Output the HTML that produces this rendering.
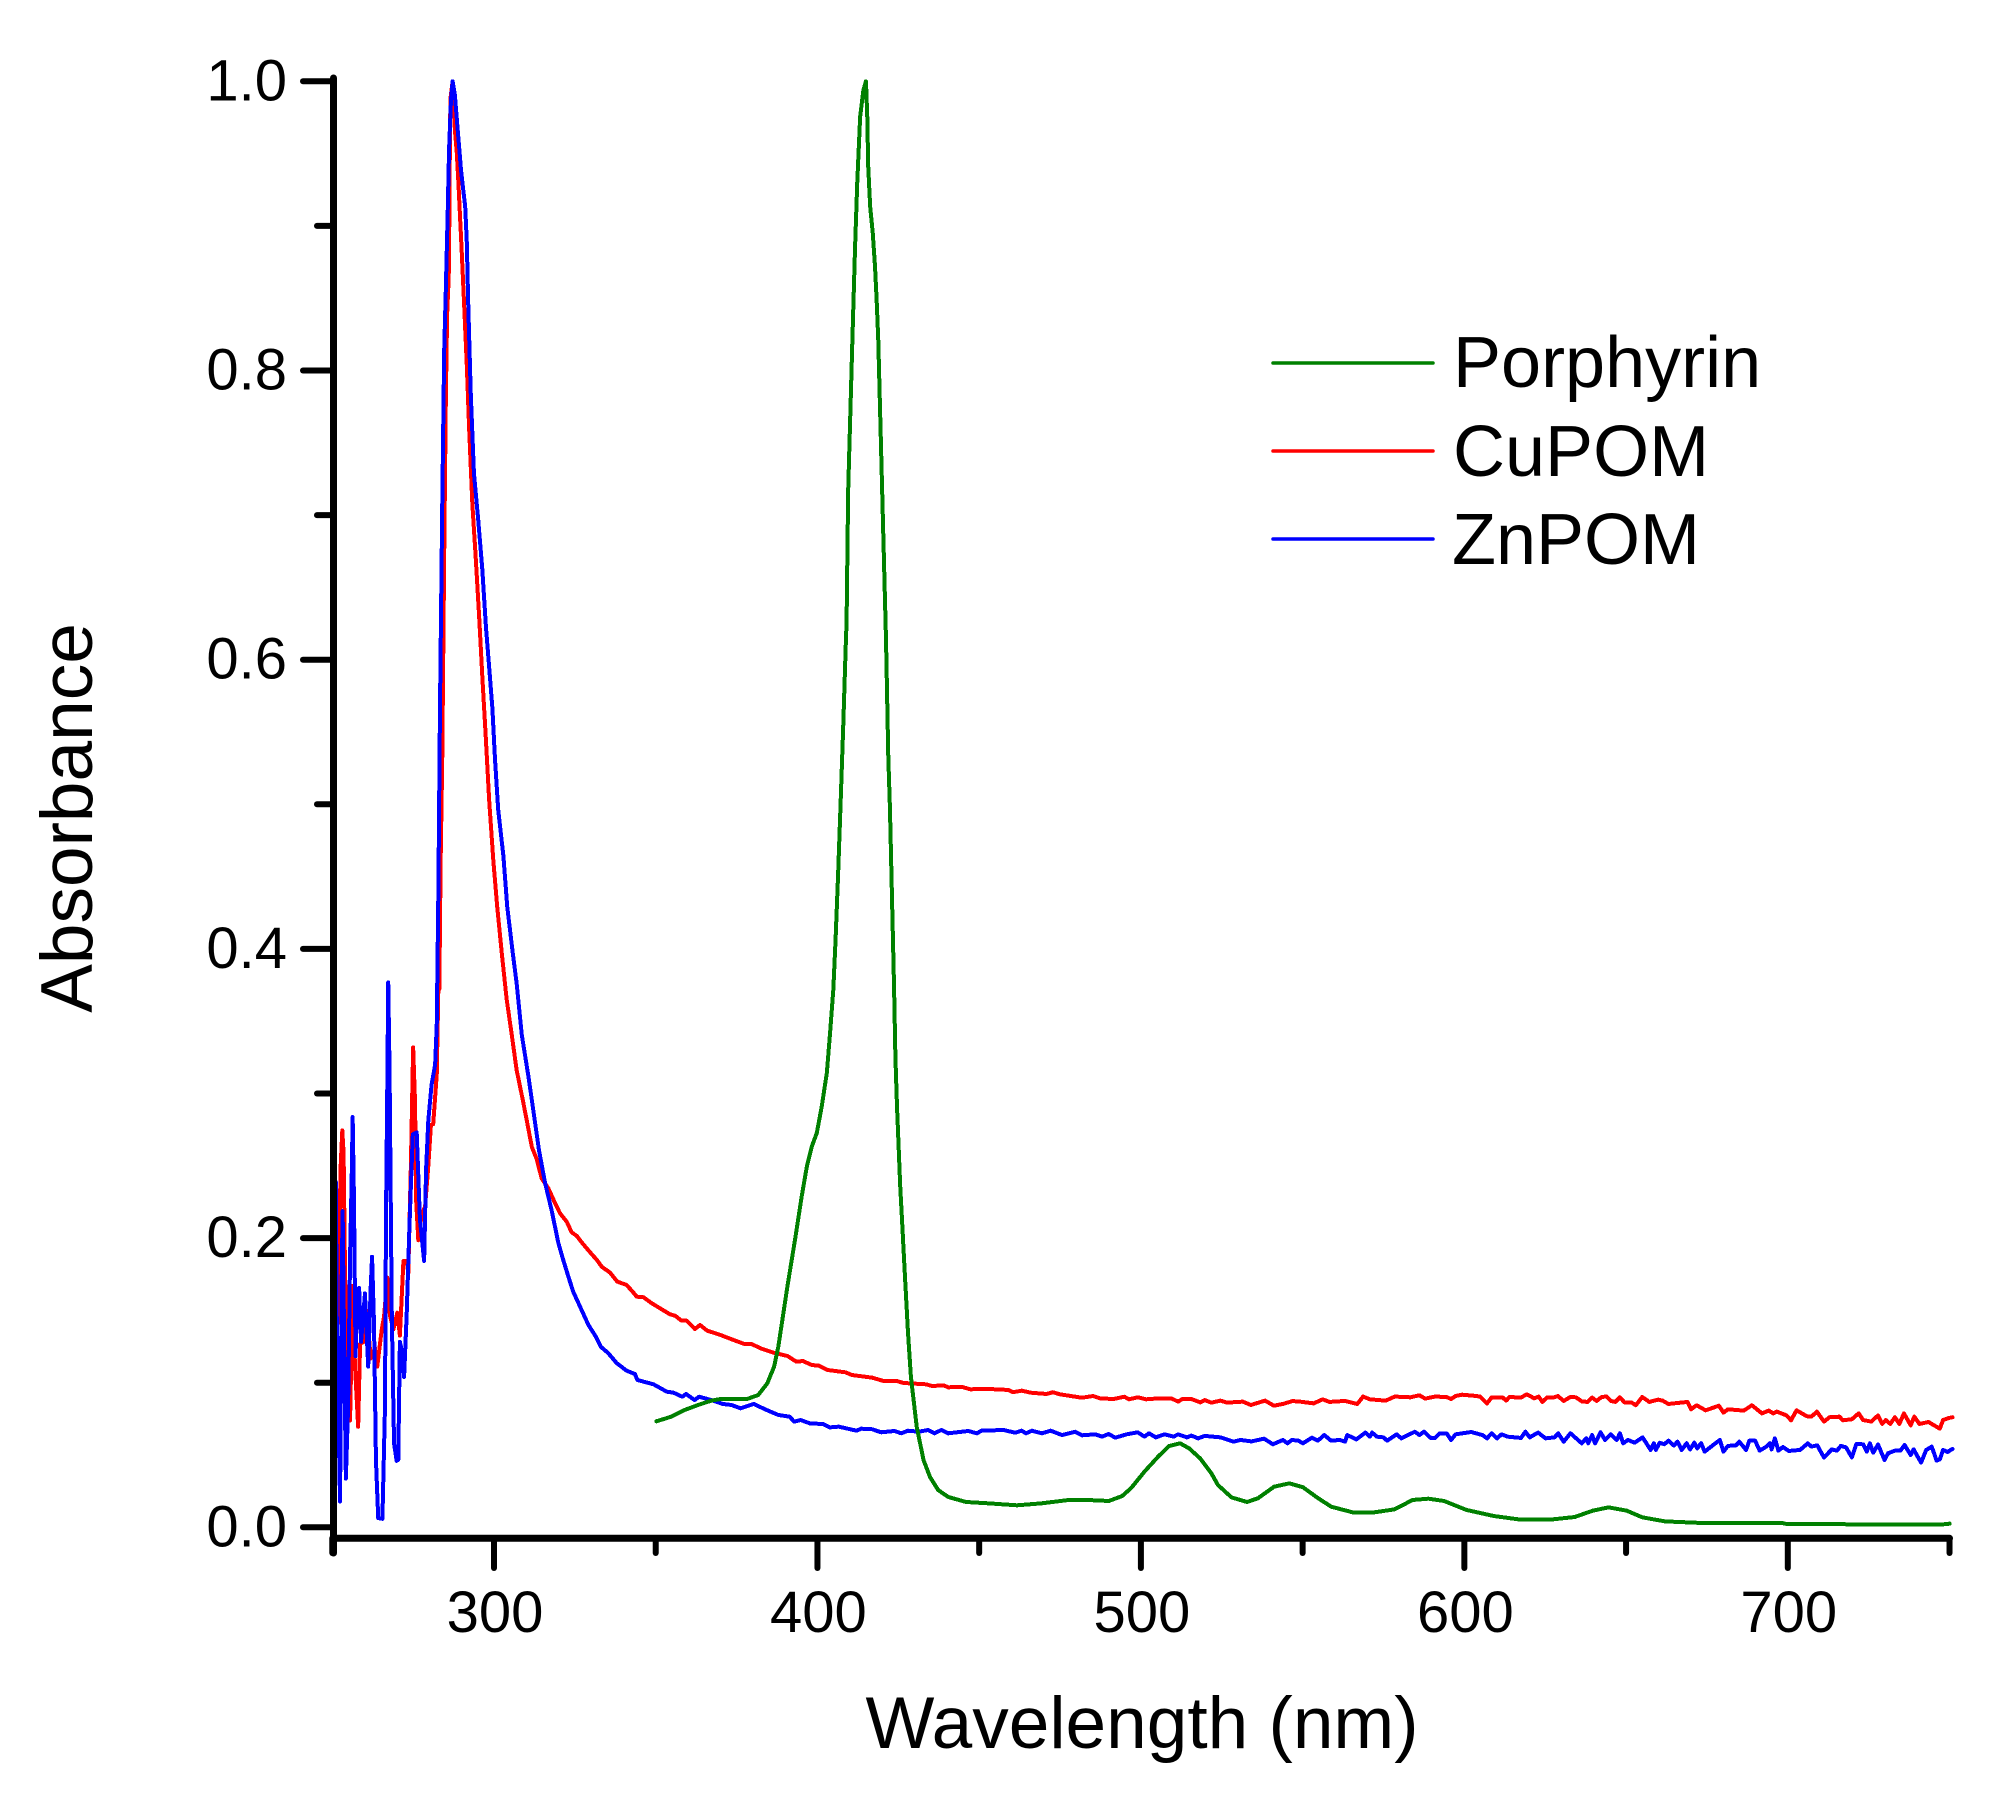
<!DOCTYPE html>
<html lang="en">
<head>
<meta charset="utf-8">
<title>Absorbance spectra</title>
<style>
html,body{margin:0;padding:0;background:#fff;width:2006px;height:1796px;overflow:hidden}
svg{display:block;font-family:"Liberation Sans",Arial,sans-serif}
.spectrum{fill:none;stroke-width:4;stroke-linejoin:round;stroke-linecap:round;shape-rendering:crispEdges}
</style>
</head>
<body>
<svg id="chart" xmlns="http://www.w3.org/2000/svg" width="2006" height="1796" viewBox="0 0 2006 1796">
  <rect x="0" y="0" width="2006" height="1796" fill="#fff"/>
  <g id="series-layer"></g>
  <g id="axis-layer"></g>
  <text x="92" y="818" font-size="73" text-anchor="middle" transform="rotate(-90 92 818)">Absorbance</text>
  <text x="1142" y="1748" font-size="73" text-anchor="middle">Wavelength (nm)</text>
  <g>
    <g>
      <line x1="1280" x2="1440" y1="363" y2="363" stroke="#008000" stroke-width="3.5" stroke-linecap="round" transform="translate(-7 0)"/>
      <text x="1453" y="387" font-size="72">Porphyrin</text>
    </g>
    <g>
      <line x1="1280" x2="1440" y1="451" y2="451" stroke="#ff0000" stroke-width="3.5" stroke-linecap="round" transform="translate(-7 0)"/>
      <text x="1453" y="476" font-size="72">CuPOM</text>
    </g>
    <g>
      <line x1="1280" x2="1440" y1="539" y2="539" stroke="#0000ff" stroke-width="3.5" stroke-linecap="round" transform="translate(-7 0)"/>
      <text x="1452" y="564" font-size="72">ZnPOM</text>
    </g>
  </g>
</svg>
<script>
const xMajorTicks = [300, 400, 500, 600, 700];
const xMinorTicks = [250, 350, 450, 550, 650, 750];
const xTickLabels = ['300', '400', '500', '600', '700'];
const yMajorTicks = [0, 0.2, 0.4, 0.6, 0.8, 1.0];
const yMinorTicks = [0.1, 0.3, 0.5, 0.7, 0.9];
const yTickLabels = ['0.0', '0.2', '0.4', '0.6', '0.8', '1.0'];

const porphyrinSpectrum = [
[350.2,.0733],[354.8,.0765],[358.9,.0811],[363.1,.0846],[367.2,.0876],[370,.0887],[378.2,.0887],[381.7,.0915],[384.5,.0996],[386.6,.1111],
[387.9,.1249],[389.3,.1456],[390.7,.1664],[393.2,.2008],[395.1,.2284],[396.7,.2492],[398.2,.263],[399.8,.2727],[401.3,.2907],[402.9,.3142],
[403.9,.3418],[404.9,.3716],[405.6,.4062],[406.4,.4525],[407.3,.5099],[408,.5562],[408.8,.6136],[409,.6254],[409.5,.7174],[410.8,.8211],
[411.6,.8833],[412.3,.9297],[413.2,.9755],[414.2,.994],[415,1],[415.4,.9755],[415.7,.9409],[416.3,.9133],[417.1,.8951],[417.8,.8718],
[418.3,.8488],[418.8,.8211],[420,.7174],[421.2,.6136],[421.9,.5327],[422.4,.4981],[423.3,.4109],[423.7,.3716],[424.1,.3252],[424.6,.2907],
[425.1,.263],[425.6,.2353],[426.1,.2146],[426.9,.18],[428,.1344],[428.9,.1039],[430.7,.0694],[432.8,.0465],[434.8,.0348],[437.3,.0258],
[440.4,.021],[445.9,.0175],[452.7,.0166],[461.7,.0152],[469.4,.0166],[477.7,.0189],[483.2,.0189],[490.1,.0182],[494.2,.0216],[497,.0272],
[501.1,.0385],[505.3,.0488],[508.7,.0562],[512.1,.0581],[514.9,.0546],[518.3,.0477],[521.8,.0373],[523.8,.0293],[528,.0207],[532.8,.0175],
[536.2,.0201],[541.2,.0281],[545.9,.0304],[550.1,.0277],[554.8,.0201],[558.9,.0142],[565.9,.0101],[571.4,.0101],[578.4,.0124],[584,.0189],
[588.9,.0198],[593.7,.0182],[600.7,.012],[609.1,.0078],[617.4,.0053],[626.5,.0053],[634.1,.0071],[639.7,.0115],[644.6,.0138],[650.2,.0115],
[655,.0069],[662,.0041],[673.2,.003],[698.2,.003],[699.6,.0023],[746.9,.0018],[750,.0025]
];

const cuPomSpectrum = [
[250.3,.0752],[250.8,.1498],[251.2,.1100],[252.1,.1900],[252.6,.2501],[253.1,.2745],[253.5,.2588],[253.9,.1842],[254.4,.1125],[255.5,.0738],
[256.3,.167],[257,.1125],[258,.0695],[258.6,.1269],[259.8,.1283],[260.6,.1498],[261.9,.1168],[263.2,.1240],[263.9,.1111],[265.3,.1369],
[266,.1455],[267,.1727],[267.8,.1469],[268.9,.1369],[270.1,.1484],[270.9,.1326],[272,.1842],[273,.1842],[273.5,.1756],[274.3,.2501],
[275,.3319],[275.6,.2932],[275.9,.2272],[276.6,.1985],[277.6,.2157],[278.7,.2220],[279.7,.2501],[280.5,.2783],[281.2,.2788],[282.3,.3132],
[282.8,.3734],[283.1,.372],[283.5,.4608],[284,.5315],[284.3,.6018],[284.6,.6724],[285.1,.7781],[285.5,.8383],[286,.8646],[286.2,.9062],
[286.4,.9706],[286.6,.9892],[287.2,1],[287.9,.9664],[288.5,.9504],[289,.9297],[289.5,.9062],[290,.8833],[290.7,.8488],[291.6,.8031],
[292.3,.7606],[293.3,.7077],[294.3,.6724],[295.4,.6302],[296.4,.5877],[297.4,.5488],[298.5,.503],[299.8,.4608],[301,.429],[302.4,.3972],
[303.9,.3654],[305.5,.3404],[307,.3162],[308.9,.2955],[310.1,.2817],[311.7,.263],[313.2,.2547],[314.7,.2415],[316.8,.2344],[318.9,.2241],
[320.4,.2172],[322.5,.2113],[324,.204],[325.6,.2015],[327.1,.1971],[329.7,.1902],[331.8,.1849],[333.3,.1802],[335.9,.1761],[338.1,.1699],
[341,.1676],[343.3,.1618],[344.1,.1595],[346.2,.1591],[348.8,.1549],[351.3,.1515],[354.4,.1473],[356,.1463],[358,.1429],[359.6,.1429],
[362.1,.1371],[363.7,.1399],[365.9,.136],[370,.133],[374.1,.1295],[377.6,.1266],[379.6,.1268],[382.4,.1238],[386.5,.1207],[390.7,.1185],
[393.5,.1145],[395.5,.115],[398.3,.1122],[400.4,.1118],[403.1,.1088],[408.6,.1072],[410.7,.1053],[416.9,.1035],[420.4,.1012],[424.5,.1012],
[426.6,.0998],[433.5,.0989],[435.5,.0977],[439,.0982],[440.4,.0968],[444.5,.0972],[447.3,.0954],[451.4,.0958],[459,.095],[460.4,.0934],
[463.2,.0945],[465.9,.0931],[470.8,.0922],[472.8,.0934],[474.9,.092],[478.3,.0908],[481.8,.0896],[485.2,.0908],[487.3,.0892],[491.5,.0887],
[494.9,.0903],[496.3,.0885],[499,.0899],[501.6,.0885],[503.9,.0889],[509.4,.0892],[511.5,.0869],[512.8,.0887],[515.6,.0887],[518.4,.0864],
[519.7,.088],[521.8,.0862],[524.6,.0876],[526.6,.0862],[531.5,.0869],[534,.0846],[538.4,.0876],[541.1,.0841],[543.9,.0853],[546.9,.0873],
[549.2,.0869],[553.4,.0857],[556.2,.0885],[558.3,.0867],[563.1,.0874],[566.9,.0853],[568.7,.0904],[570.8,.0885],[575.7,.0876],[578.5,.0904],
[583.3,.0899],[586.1,.0913],[587.9,.089],[591,.0904],[594.5,.0901],[595.9,.0887],[597.3,.0908],[599.3,.0917],[602.8,.091],[604.9,.0904],
[607,.0857],[608.4,.0897],[611.9,.0897],[612.9,.0876],[614,.0901],[617.5,.0897],[619.3,.092],[621.6,.0892],[623,.0904],[624.1,.0867],
[625.5,.0897],[627.5,.0897],[628.9,.0908],[630.7,.0874],[632.8,.0901],[634.5,.0899],[636.3,.0871],[638.1,.0867],[639.5,.0897],[640.9,.0874],
[642.3,.0899],[643.9,.0906],[645.3,.0874],[646.7,.0867],[648.1,.0899],[649.5,.0864],[651.6,.0864],[653,.0844],[655,.0901],[657.2,.0867],
[659.9,.0883],[661.3,.0876],[663.1,.0853],[669,.0867],[670.1,.0816],[671.8,.0844],[674.6,.0809],[678.7,.0841],[680.1,.0793],[681.5,.0816],
[686.4,.0807],[688.9,.0844],[692,.0788],[694.1,.0807],[695.5,.0788],[696.6,.08],[699.6,.0774],[701,.074],[702.7,.0809],[705.9,.0768],
[707.3,.0765],[709,.08],[711.2,.0731],[712.9,.0761],[716,.0765],[717,.074],[719.8,.0747],[721.9,.0788],[723.3,.0742],[725.8,.0731],
[727.9,.0774],[729.2,.0715],[730.3,.0742],[731.7,.0715],[733.1,.0761],[734.5,.0715],[735.9,.0788],[738,.0705],[739.1,.0765],[740.7,.0715],
[743.5,.0728],[747,.0682],[748,.0742],[749.8,.0756],[750.9,.0761]
];

const znPomSpectrum = [
[250.3,.0408],[250.6,.2301],[251.1,.2387],[251.4,.1412],[251.9,.0800],[252.4,.0179],[252.9,.1699],[253.2,.2186],[253.6,.1412],[254.2,.0337],
[254.9,.0838],[255.5,.1871],[256,.2416],[256.3,.2837],[256.7,.2272],[257.2,.1183],[257.7,.1613],[258.3,.1656],[258.9,.1283],[259.6,.1469],
[260.1,.1618],[261.1,.1111],[261.9,.167],[262.3,.1871],[262.9,.1412],[263.5,.0466],[264.2,.0064],[265.5,.0059],[266.3,.0838],[266.6,.2129],
[267,.3032],[267.3,.3769],[267.7,.3175],[268,.2444],[268.4,.1469],[269.1,.058],[269.9,.046],[270.4,.0466],[270.9,.1283],[271.6,.1211],
[272.2,.1039],[273,.1469],[273.8,.2043],[274.3,.2358],[274.9,.2717],[276.1,.2731],[277.1,.2129],[278.4,.1842],[279,.2473],[279.7,.2817],
[280.7,.3061],[281.8,.3198],[282.3,.3477],[282.8,.4393],[283.3,.5665],[284,.7077],[284.6,.814],[285.1,.8556],[285.4,.8833],[285.7,.911],
[286.1,.9525],[286.7,.9871],[287.2,1],[287.9,.9906],[288.7,.9686],[289.3,.9525],[289.8,.9386],[290.5,.9248],[291.1,.9133],[291.6,.8882],
[292,.8488],[292.8,.7851],[293.8,.7288],[295.1,.6973],[296.4,.662],[297.5,.623],[298.5,.5949],[299.5,.5665],[300.3,.5315],[301.3,.4962],
[302.9,.4644],[304.1,.429],[305.8,.3972],[307,.3762],[308.6,.3404],[310.6,.3124],[311.7,.2955],[313.9,.2609],[315.8,.238],[317.8,.2194],
[319.9,.1966],[321.4,.1849],[323,.1733],[324.5,.1629],[326.6,.1526],[329.2,.1399],[331.5,.1318],[333,.1249],[335.3,.1205],[337.9,.1136],
[341,.1083],[343.6,.106],[344.3,.1019],[345.1,.1014],[349.3,.0989],[353.4,.0938],[355.5,.0931],[358.2,.0903],[359.4,.0922],[362,.088],
[363.4,.0903],[367.2,.088],[370.7,.0853],[373.4,.0846],[376.2,.0823],[380.3,.0853],[383.8,.0816],[387.9,.0777],[391.4,.0765],[392.8,.0731],
[394.8,.0742],[397.6,.0719],[401.7,.0714],[403.8,.0691],[406.6,.0696],[412.1,.0668],[413.5,.0682],[416.9,.0678],[419.7,.0657],[423.8,.0666],
[425.9,.065],[428,.0668],[431.4,.0661],[434.2,.0673],[436.2,.065],[438.3,.0673],[440.4,.065],[446.6,.0666],[449.3,.065],[450.7,.0668],
[457.6,.0673],[461.1,.0654],[463.1,.0668],[464.5,.065],[466.3,.0668],[469.4,.065],[472.1,.0668],[475.6,.0638],[479.7,.0661],[481.8,.0636],
[485.9,.0643],[488,.0627],[490,.0645],[492.1,.062],[495.6,.0643],[499,.0657],[501.1,.0627],[502.5,.065],[504.6,.0622],[507.3,.0643],
[510.1,.0627],[511.5,.0643],[514.2,.0622],[515.6,.0634],[517.7,.0615],[519.7,.0632],[524.6,.0622],[528.7,.0592],[530.8,.0604],[534.2,.0594],
[538.1,.0613],[540.8,.0574],[543.9,.0604],[545.3,.0581],[546.7,.0604],[548.7,.0599],[550.1,.0581],[552.9,.062],[554.7,.0599],[556.7,.0638],
[558.8,.0599],[561.5,.0604],[563.1,.0592],[563.8,.0638],[566.6,.0608],[569.4,.0655],[570.8,.0627],[571.5,.0655],[572.9,.0627],[575,.0622],
[576.1,.0599],[579.1,.0643],[580.5,.0615],[584.7,.0661],[586.1,.0638],[587.5,.0661],[589.6,.0618],[591,.0618],[592.4,.065],[594.5,.065],
[595.9,.0604],[597.3,.0643],[602.1,.0659],[605.6,.0638],[607,.0615],[608.4,.065],[610.1,.0615],[611.5,.0643],[613.3,.0627],[617.5,.0618],
[618.9,.0661],[620.2,.0622],[622.8,.0655],[625.1,.0615],[627.9,.0622],[629,.065],[630.7,.0592],[632.8,.065],[636.3,.0581],[637.7,.0615],
[638.3,.0581],[639.5,.0638],[640.4,.0581],[642.1,.0657],[643.5,.0604],[645.3,.0643],[647.1,.0604],[648.1,.065],[649.1,.0581],[650.6,.0604],
[652.6,.0585],[655.1,.0622],[657.6,.0535],[658.6,.0581],[659.2,.0535],[660.4,.0585],[661.8,.0574],[663.1,.0599],[664.8,.0565],[665.9,.0592],
[667.2,.0535],[668.7,.0581],[669.8,.0539],[671.1,.0585],[672,.0546],[673.2,.0581],[674.3,.0523],[676.7,.0565],[679,.0604],[680.1,.0523],
[681.5,.0563],[684,.0567],[685,.0592],[687.1,.0535],[688.1,.0599],[689.9,.0599],[691.3,.053],[693.4,.0558],[694.5,.0581],[695,.0539],
[696,.0615],[697.1,.053],[698.5,.0555],[700.3,.0528],[703.8,.0535],[706.2,.0581],[707.3,.0558],[709.1,.0567],[711.2,.0482],[713.6,.0539],
[715.2,.053],[716.4,.0563],[718,.0553],[719.8,.0484],[721.2,.0576],[723.3,.0574],[724.4,.0523],[725.4,.0581],[726.4,.0516],[727.9,.0572],
[729.9,.0466],[731,.0512],[733.1,.053],[734.8,.053],[736.1,.0569],[738,.05],[738.9,.0539],[741.2,.0447],[742.8,.0535],[744.5,.0558],
[746,.0461],[747,.047],[748,.0535],[749.4,.0521],[750.9,.0542]
];

const SVG_NS = 'http://www.w3.org/2000/svg';
const xScale = function (wavelength) { return 494 + (wavelength - 300) * 3.2345; };
const yScale = function (absorbance) { return 1527.3 - absorbance * 1446; };
const axisLayer = document.getElementById('axis-layer');
const seriesLayer = document.getElementById('series-layer');

function drawLine(x1, y1, x2, y2, width) {
  const line = document.createElementNS(SVG_NS, 'line');
  line.setAttribute('x1', x1);
  line.setAttribute('y1', y1);
  line.setAttribute('x2', x2);
  line.setAttribute('y2', y2);
  line.setAttribute('stroke', '#000');
  line.setAttribute('stroke-width', width);
  line.setAttribute('stroke-linecap', 'round');
  axisLayer.appendChild(line);
  return line;
}

function drawLabel(x, y, anchor, content) {
  const label = document.createElementNS(SVG_NS, 'text');
  label.setAttribute('x', x);
  label.setAttribute('y', y);
  label.setAttribute('font-size', '58');
  label.setAttribute('text-anchor', anchor);
  label.textContent = content;
  axisLayer.appendChild(label);
  return label;
}

function drawSeries(points, color, name) {
  const path = document.createElementNS(SVG_NS, 'polyline');
  path.setAttribute('class', 'spectrum');
  path.setAttribute('stroke', color);
  path.setAttribute('points', points.map(function (p) {
    return xScale(p[0]).toFixed(2) + ',' + yScale(p[1]).toFixed(2);
  }).join(' '));
  
  
  seriesLayer.appendChild(path);
}

drawSeries(cuPomSpectrum, '#ff0000', 'series-cupom');
drawSeries(znPomSpectrum, '#0000ff', 'series-znpom');
drawSeries(porphyrinSpectrum, '#008000', 'series-porphyrin');

const yAxisLine = drawLine(333.5, 78, 333.5, 1553, 7);


const xAxisLine = drawLine(333.5, 1538.3, xScale(750), 1538.3, 7);



xMajorTicks.forEach(function (value, i) {
  const tick = drawLine(xScale(value), 1538.3, xScale(value), 1568, 6);
  
  
  const label = drawLabel(xScale(value) + 1, 1632, 'middle', xTickLabels[i]);
  
  
});
xMinorTicks.forEach(function (value) {
  const tick = drawLine(xScale(value), 1538.3, xScale(value), 1553, 6);
  
  
});
yMajorTicks.forEach(function (value, i) {
  const tick = drawLine(303, yScale(value), 333.5, yScale(value), 6);
  
  
  const label = drawLabel(287, yScale(value) + 19, 'end', yTickLabels[i]);
  
  
});
yMinorTicks.forEach(function (value) {
  const tick = drawLine(317, yScale(value), 333.5, yScale(value), 6);
  
  
});
</script>
</body>
</html>
